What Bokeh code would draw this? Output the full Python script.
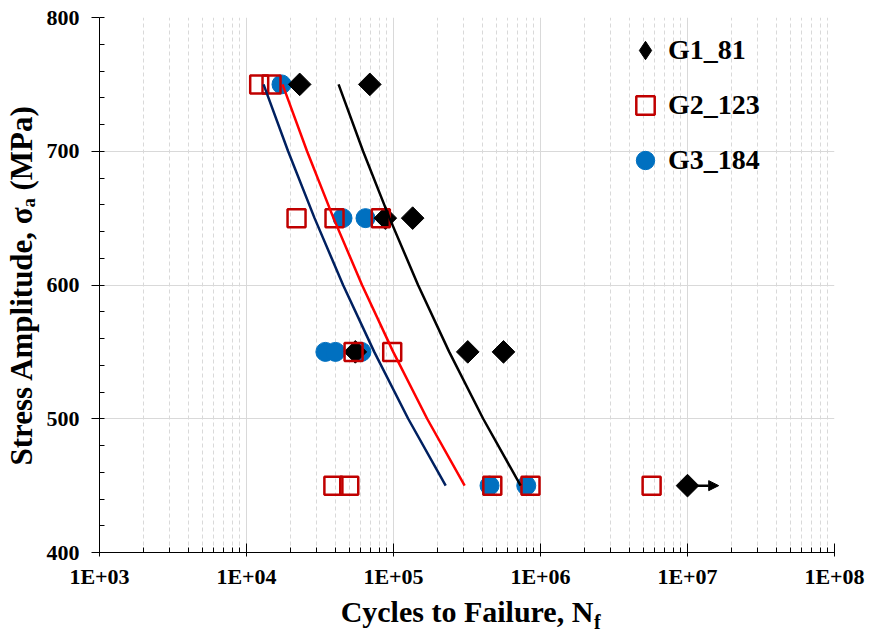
import numpy as np
from bokeh.plotting import figure
from bokeh.models import (FixedTicker, SingleIntervalTicker, Legend, LegendItem,
                          Arrow, NormalHead, Range1d, LogAxis)
from bokeh.embed import file_html
from bokeh.resources import INLINE

# ---------------- data ----------------
g1_cycles = [23000, 69000, 88000, 135000, 55000, 320000, 560000, 10000000]
g1_stress = [750, 750, 650, 650, 550, 550, 550, 450]

g2_cycles = [12200, 14800, 21900, 39700, 82000, 53500, 98000,
             39000, 50000, 470000, 855000, 5700000]
g2_stress = [750, 750, 650, 650, 650, 550, 550,
             450, 450, 450, 450, 450]

g3_cycles = [17300, 45000, 64500, 34400, 40300, 60500, 450000, 800000]
g3_stress = [750, 650, 650, 550, 550, 550, 450, 450]

fit_stress = [750, 700, 650, 600, 550, 500, 450]
fit_g1_cycles = [42300, 62100, 94000, 146900, 239300, 407400, 732800]
fit_g2_cycles = [17580, 25820, 39080, 61090, 99540, 169400, 304800]
fit_g3_cycles = [13060, 19190, 29040, 45390, 73960, 125900, 226500]

runout_start = 10000000
runout_end = 16300000
runout_stress = 450

xtick_values = [1e3, 1e4, 1e5, 1e6, 1e7, 1e8]
xtick_labels = ["1E+03", "1E+04", "1E+05", "1E+06", "1E+07", "1E+08"]
series_labels = ["G1_81", "G2_123", "G3_184"]

x_title = "Cycles to Failure, N"
x_title_sub = "f"
x_title_sub_pos = 2440000.0      # where the subscript sits along the x axis
y_title = "Stress Amplitude, \u03c3\u2090 (MPa)"

# ---------------- figure ----------------
FONT = "Liberation Serif"

p = figure(x_axis_type="log", x_range=Range1d(1e3, 1e8), y_range=Range1d(400, 800),
           frame_width=735, frame_height=535,
           min_border_left=99, min_border_right=36, min_border_top=17, min_border_bottom=10,
           output_backend="svg", toolbar_location=None)
p.outline_line_color = None
p.background_fill_color = "white"
p.border_fill_color = "white"

minor_x = [m * d for d in xtick_values[:-1] for m in range(2, 10)]
p.xaxis.ticker = FixedTicker(ticks=xtick_values, minor_ticks=minor_x)
p.xaxis.major_label_overrides = dict(zip(xtick_values, xtick_labels))
p.yaxis.ticker = SingleIntervalTicker(interval=100, num_minor_ticks=5)

for ax in (p.xaxis[0], p.yaxis[0]):
    ax.axis_line_color = "black"
    ax.axis_line_width = 1
    ax.major_tick_line_color = "black"
    ax.minor_tick_line_color = "black"
    ax.major_label_text_font = FONT
    ax.major_label_text_font_style = "bold"
    ax.major_label_text_font_size = "22px"
    ax.major_label_text_color = "black"
    ax.axis_label_text_font = FONT
    ax.axis_label_text_font_style = "bold"
    ax.axis_label_text_color = "black"

p.xaxis.major_tick_in = 9
p.xaxis.major_tick_out = 4
p.xaxis.minor_tick_in = 5
p.xaxis.minor_tick_out = 0
p.xaxis.major_label_standoff = 7
p.xaxis.axis_label = x_title
p.xaxis.axis_label_text_font_size = "30px"
p.xaxis.axis_label_standoff = 3

p.yaxis.major_tick_in = 0
p.yaxis.major_tick_out = 8
p.yaxis.minor_tick_in = 5
p.yaxis.minor_tick_out = 0
p.yaxis.major_label_standoff = 12
p.yaxis.axis_label = y_title
p.yaxis.axis_label_text_font_size = "31px"
p.yaxis.axis_label_standoff = 5

# subscript of the x title, drawn as a lone tick label of an extra axis
sub_axis = LogAxis(ticker=FixedTicker(ticks=[x_title_sub_pos], minor_ticks=[]),
                   major_label_overrides={x_title_sub_pos: x_title_sub},
                   axis_line_color=None, major_tick_line_color=None,
                   minor_tick_line_color=None, major_tick_in=0, major_tick_out=0,
                   minor_tick_in=0, minor_tick_out=0,
                   major_label_standoff=-20,
                   major_label_text_font=FONT, major_label_text_font_style="bold",
                   major_label_text_font_size="20px", major_label_text_color="black")
p.add_layout(sub_axis, "below")

p.xgrid.grid_line_color = "#D9D9D9"
p.xgrid.minor_grid_line_color = "#D9D9D9"
p.xgrid.minor_grid_line_dash = "4 3"
p.ygrid.grid_line_color = "#D9D9D9"

# ---------------- marks ----------------
r3 = p.scatter(g3_cycles, g3_stress, marker="circle", size=19,
               fill_color="#0070C0", line_color="#0070C0")
# legend proxy for the diamond (legend glyphs are never rotated); hidden under the real one
g1_proxy = p.scatter(g1_cycles[:1], g1_stress[:1], marker="diamond", size=14,
                     fill_color="black", line_color="black")
r1 = p.scatter(g1_cycles, g1_stress, marker="square", angle=np.pi / 4, size=16,
               fill_color="black", line_color="black")
r2 = p.scatter(g2_cycles, g2_stress, marker="square", size=18,
               fill_color=None, line_color="#C00000", line_width=2.5)

p.line(fit_g3_cycles, fit_stress, line_color="#002060", line_width=2.5)
p.line(fit_g2_cycles, fit_stress, line_color="#FF0000", line_width=2.5)
p.line(fit_g1_cycles, fit_stress, line_color="black", line_width=2.5)

p.add_layout(Arrow(end=NormalHead(size=10, fill_color="black", line_color="black"),
                   x_start=runout_start, y_start=runout_stress,
                   x_end=runout_end, y_end=runout_stress,
                   line_color="black", line_width=2.5))

legend = Legend(items=[LegendItem(label=series_labels[0], renderers=[g1_proxy]),
                       LegendItem(label=series_labels[1], renderers=[r2]),
                       LegendItem(label=series_labels[2], renderers=[r3])],
                location=(523, 369), glyph_width=46, glyph_height=46, spacing=9,
                padding=0, margin=0, label_standoff=-5,
                background_fill_alpha=0, border_line_color=None,
                label_text_font=FONT, label_text_font_style="bold",
                label_text_font_size="28px", label_text_color="black")
p.add_layout(legend)

open("out.html", "w").write(file_html(p, INLINE))
